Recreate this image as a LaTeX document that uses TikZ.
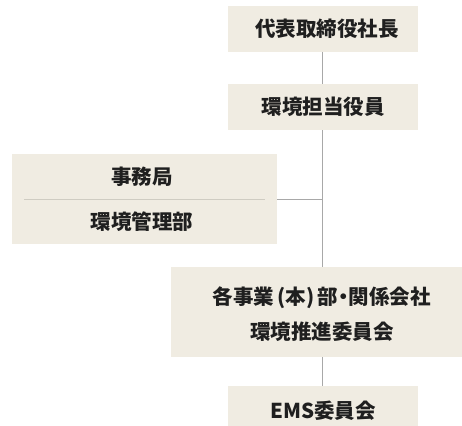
\documentclass[tikz,border=0pt]{standalone}
\usepackage{fontspec}
\newfontfamily\cjk[RawFeature={+palt}]{Noto Sans CJK JP}
\definecolor{boxfill}{HTML}{F0ECE2}
\definecolor{linegray}{HTML}{A8A8A8}
\definecolor{divgray}{HTML}{CFCCC2}
\begin{document}
\begin{tikzpicture}[x=1pt,y=-1pt,
  orgbox/.style={fill=boxfill,draw=none},
  lbl/.style={font=\cjk\bfseries\fontsize{20.5}{24}\selectfont,text=black!88,inner sep=0pt,anchor=center},
  conn/.style={draw=linegray,line width=1pt}]
\useasboundingbox (0,0) rectangle (462,425);
\clip (0,0) rectangle (462,425);
% boxes
\path[orgbox] (228,6) rectangle (418,52);
\path[orgbox] (228,84) rectangle (418,130);
\path[orgbox] (12,154) rectangle (277,244);
\path[orgbox] (171,267) rectangle (474,357);
\path[orgbox] (228,386) rectangle (418,432);
% anchor coordinates
\coordinate (b1s) at (322.5,52);
\coordinate (b2n) at (322.5,84);
\coordinate (b2s) at (322.5,130);
\coordinate (b4n) at (322.5,267);
\coordinate (b4s) at (322.5,357);
\coordinate (b5n) at (322.5,386);
\coordinate (b3e) at (277,199);
\coordinate (tee) at (322.5,199);
\coordinate (divl) at (24,199);
\coordinate (divr) at (265,199);
% labels
\node[lbl] (t1) at (327,29) {代表取締役社長};
\node[lbl] (t2) at (323,107) {環境担当役員};
\node[lbl] (t3a) at (142,177) {事務局};
\node[lbl] (t3b) at (142,222) {環境管理部};
\node[lbl] (t4a) at (321.5,298) {各事業\,(本)\,部・関係会社};
\node[lbl] (t4b) at (322,332) {環境推進委員会};
\node[lbl] (t5) at (323,411) {EMS委員会};
% connectors
\draw[conn] (b1s) -- (b2n);
\draw[conn] (b2s) -- (b4n);
\draw[conn] (b4s) -- (b5n);
\draw[conn] (b3e) -- (tee);
\draw[draw=divgray,line width=1pt] (divl) -- (divr);
\end{tikzpicture}
\end{document}
